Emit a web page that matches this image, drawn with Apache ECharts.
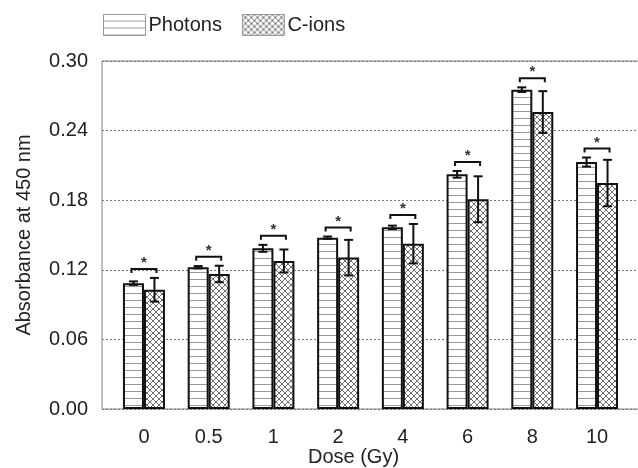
<!DOCTYPE html>
<html>
<head>
<meta charset="utf-8">
<script src="https://cdn.jsdelivr.net/npm/echarts@6/dist/echarts.min.js"></script>
<style>
  html, body { margin: 0; padding: 0; background: #fff; }
  #chart { width: 638px; height: 468px; }
</style>
</head>
<body>
<div id="chart"></div>
<script>
var doses = ['0', '0.5', '1', '2', '4', '6', '8', '10'];
var photons = [0.1085, 0.1222, 0.1385, 0.1477, 0.1566, 0.2023, 0.2753, 0.2129];
var photonsErr = [0.0015, 0.0010, 0.0030, 0.0010, 0.0015, 0.0029, 0.0020, 0.0039];
var cions = [0.1028, 0.1164, 0.1276, 0.1305, 0.1425, 0.1808, 0.2560, 0.1948];
var cionsErr = [0.0102, 0.0071, 0.0099, 0.0153, 0.0170, 0.0198, 0.0180, 0.0200];
var yTicks = [0, 0.06, 0.12, 0.18, 0.24, 0.30];

var font = "'Liberation Sans', Arial, sans-serif";
var textColor = '#222';

// fill patterns
function linePattern() {
  var c = document.createElement('canvas');
  c.width = 8; c.height = 7;
  var ctx = c.getContext('2d');
  ctx.fillStyle = '#fff';
  ctx.fillRect(0, 0, 8, 7);
  ctx.strokeStyle = '#999';
  ctx.lineWidth = 1;
  ctx.beginPath();
  ctx.moveTo(0, 6.5); ctx.lineTo(8, 6.5);
  ctx.stroke();
  return c;
}
function crossPattern() {
  var c = document.createElement('canvas');
  c.width = 6; c.height = 6;
  var ctx = c.getContext('2d');
  ctx.fillStyle = '#fff';
  ctx.fillRect(0, 0, 6, 6);
  ctx.strokeStyle = '#707070';
  ctx.lineWidth = 1;
  ctx.beginPath();
  ctx.moveTo(0, 0); ctx.lineTo(6, 6);
  ctx.moveTo(6, 0); ctx.lineTo(0, 6);
  ctx.stroke();
  return c;
}

var barW = 21;
var half = 10.5; // bar centre offset from category centre

var errData = [];
var bracketData = [];
doses.forEach(function (d, i) {
  errData.push([i, photons[i], photonsErr[i], -half]);
  errData.push([i, cions[i], cionsErr[i], half]);
  bracketData.push([i, Math.max(photons[i] + photonsErr[i], cions[i] + cionsErr[i])]);
});

function renderErr(params, api) {
  var i = api.value(0), v = api.value(1), e = api.value(2), off = api.value(3);
  var top = api.coord([i, v + e]);
  var bot = api.coord([i, v - e]);
  var x = top[0] + off;
  var style = { stroke: '#111', lineWidth: 2 };
  return {
    type: 'group',
    children: [
      { type: 'line', shape: { x1: x, y1: top[1], x2: x, y2: bot[1] }, style: style },
      { type: 'line', shape: { x1: x - 4.5, y1: top[1], x2: x + 4.5, y2: top[1] }, style: style },
      { type: 'line', shape: { x1: x - 4.5, y1: bot[1], x2: x + 4.5, y2: bot[1] }, style: style }
    ]
  };
}

function renderBracket(params, api) {
  var p = api.coord([api.value(0), api.value(1)]);
  var y = p[1] - 9;
  var x = p[0];
  return {
    type: 'group',
    children: [
      {
        type: 'polyline',
        shape: { points: [[x - 12.5, y + 4], [x - 12.5, y], [x + 12.5, y], [x + 12.5, y + 4]] },
        style: { stroke: '#111', lineWidth: 2, fill: null }
      },
      {
        type: 'text',
        style: { text: '*', x: x, y: y - 6, align: 'center', verticalAlign: 'middle',
                 font: 'bold 15px ' + font, fill: '#333' }
      }
    ]
  };
}

var myChart = echarts.init(document.getElementById('chart'));
var option = {
  animation: false,
  backgroundColor: '#fff',
  textStyle: { fontFamily: font },
  legend: {
    data: ['Photons', 'C-ions'],
    left: 103, top: 14, padding: 0,
    itemWidth: 42, itemHeight: 21, itemGap: 20,
    icon: 'rect',
    itemStyle: { borderColor: '#999', borderWidth: 1 },
    textStyle: { fontSize: 20, color: textColor, fontFamily: font, padding: [3, 0, 0, -2] }
  },
  grid: [
    { left: 102, top: 61, right: -5, bottom: 59, show: true, borderColor: '#808080', borderWidth: 1,
      outerBoundsMode: 'none' },
    { left: 111.6, top: 61, right: 8.6, bottom: 59, outerBoundsMode: 'none' }
  ],
  xAxis: [
    { gridIndex: 0, type: 'value', show: false, min: 0, max: 1 },
    {
      gridIndex: 1, type: 'category', data: doses,
      axisLine: { show: false }, axisTick: { show: false },
      axisLabel: { fontSize: 20, color: textColor, margin: 18, fontFamily: font },
      name: 'Dose (Gy)', nameLocation: 'middle', nameGap: 38, nameMoveOverlap: false,
      nameTextStyle: { fontSize: 20, color: textColor, fontFamily: font, padding: [0, 34, 0, 0] }
    }
  ],
  yAxis: [
    {
      gridIndex: 0, type: 'value', min: yTicks[0], max: yTicks[yTicks.length - 1], interval: 0.06,
      axisLine: { show: false }, axisTick: { show: false },
      axisLabel: { fontSize: 20, color: textColor, margin: 14, fontFamily: font,
                   formatter: function (v) { return v.toFixed(2); } },
      splitLine: { show: true, lineStyle: { color: '#777', type: [2, 2], width: 1 } },
      name: 'Absorbance at 450 nm', nameLocation: 'middle', nameGap: 68, nameMoveOverlap: false,
      nameTextStyle: { fontSize: 20, color: textColor, fontFamily: font }
    },
    { gridIndex: 1, type: 'value', show: false, min: yTicks[0], max: yTicks[yTicks.length - 1] }
  ],
  series: [
    {
      name: 'Photons', type: 'bar', xAxisIndex: 1, yAxisIndex: 1,
      data: photons, barWidth: barW, barGap: 0,
      itemStyle: { color: { image: linePattern(), repeat: 'repeat' }, borderColor: '#111', borderWidth: 2 }
    },
    {
      name: 'C-ions', type: 'bar', xAxisIndex: 1, yAxisIndex: 1,
      data: cions, barWidth: barW, barGap: 0,
      itemStyle: { color: { image: crossPattern(), repeat: 'repeat' }, borderColor: '#111', borderWidth: 2 }
    },
    {
      type: 'custom', xAxisIndex: 1, yAxisIndex: 1, renderItem: renderErr,
      data: errData, z: 10, silent: true
    },
    {
      type: 'custom', xAxisIndex: 1, yAxisIndex: 1, renderItem: renderBracket,
      data: bracketData, z: 10, silent: true
    }
  ]
};
option && myChart.setOption(option, true);
</script>
</body>
</html>
